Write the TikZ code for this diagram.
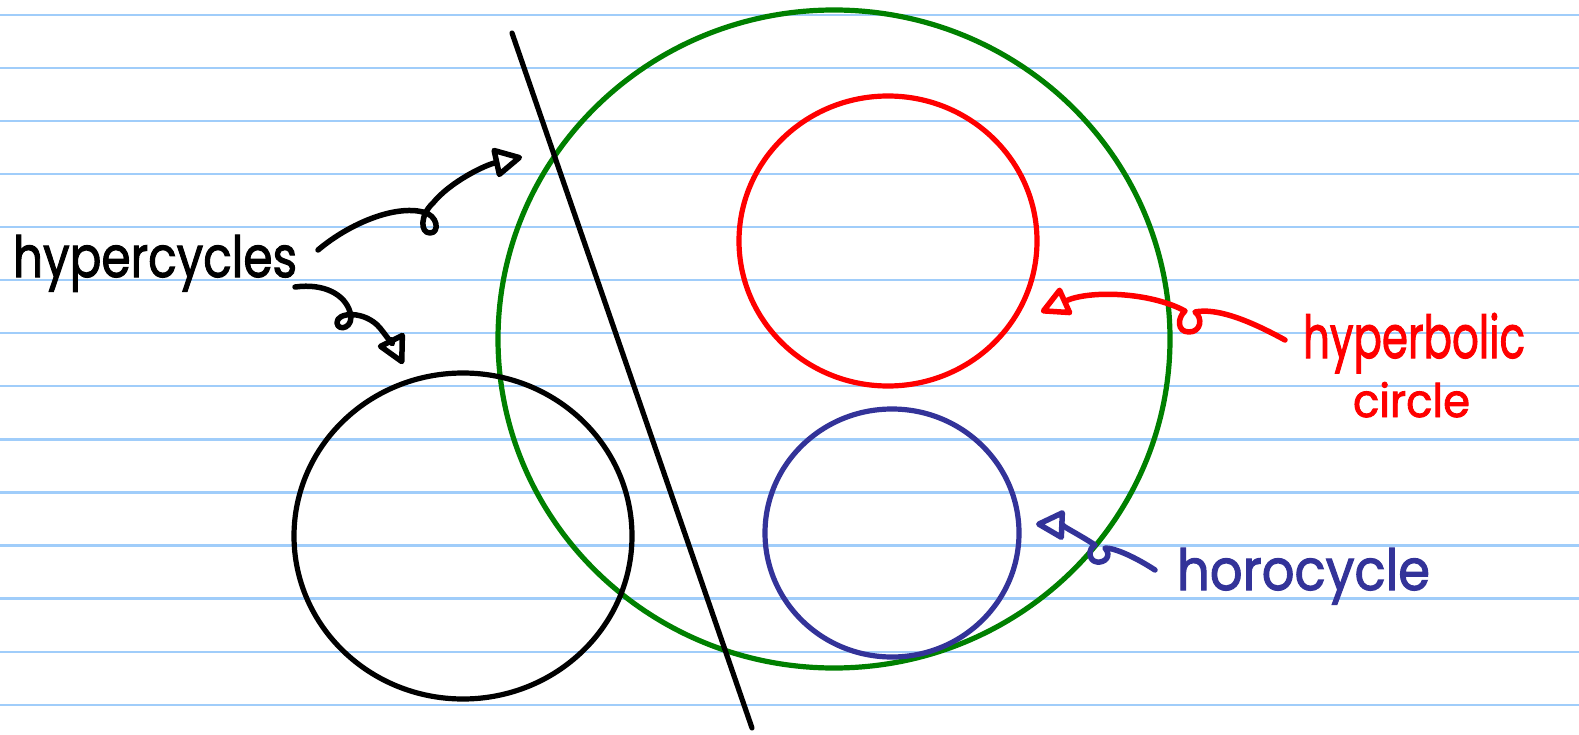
\documentclass[tikz,border=0pt]{standalone}
\usepackage{fontspec}
\usetikzlibrary{arrows.meta}
\newfontfamily\hand[FakeBold=2]{Poppins}
\definecolor{rule}{RGB}{160,205,250}
\definecolor{pgreen}{RGB}{0,128,0}
\definecolor{pred}{RGB}{255,0,0}
\definecolor{pblue}{RGB}{51,51,153}
\tikzset{
  ruleline/.style={draw=rule,line width=2.2pt},
  curve/.style={line width=5.2pt},
  pointer/.style={line width=5.5pt,line cap=round,line join=round,
    -{Triangle[open,length=32pt,width=32pt,line width=5.5pt,round]}},
  hw/.style={inner sep=0pt,outer sep=0pt,font=\hand},
}
\begin{document}
\begin{tikzpicture}[x=1pt,y=-1pt]
\useasboundingbox (0,0) rectangle (1579,735);
\fill[white] (0,0) rectangle (1579,735);
% ruled paper
\foreach \k in {0,...,13}{
  \draw[ruleline] (0,{15+53.05*\k}) -- (1579,{15+53.05*\k});
}
% circles
\draw[curve,pgreen] (834,339) ellipse [x radius=336pt,y radius=329pt];
\draw[curve,pred]   (888,241) ellipse [x radius=149pt,y radius=145pt];
\draw[curve,pblue]  (892,533) ellipse [x radius=127pt,y radius=124pt];
\draw[curve,black]  (463,536) ellipse [x radius=169pt,y radius=163pt];
% hyperbolic line
\coordinate (lt) at (512,33);
\coordinate (lb) at (752,728);
\draw[curve,black,line cap=round] (lt) -- (lb);
% labels
\node[hw,anchor=base west] (hyp) at (13,277) {\resizebox{284pt}{42pt}{hypercycles}};
\node[hw,anchor=base west,text=pred] (hypb) at (1303,358) {\resizebox{222pt}{45pt}{hyperbolic}};
\node[hw,anchor=base west,text=pred] (circ) at (1353,417) {\resizebox{117pt}{35pt}{circle}};
\node[hw,anchor=base west,text=pblue] (horo) at (1177,590) {\resizebox{253pt}{42pt}{horocycle}};
% arrow end points
\coordinate (a1s) at (318,250);
\coordinate (a1t) at (522,157);
\coordinate (a2s) at (295,287);
\coordinate (a2t) at (403,364);
\coordinate (a3s) at (1285,340);
\coordinate (a3t) at (1041,312);
\coordinate (a4s) at (1155,570);
\coordinate (a4t) at (1036,524);
% arrows
\draw[pointer,black] (a1s) .. controls (350,223) and (395,205) .. (423,212)
  .. controls (438,215) and (440,233) .. (430,233)
  .. controls (420,233) and (420,215) .. (433,203)
  .. controls (450,182) and (485,165) .. (a1t);
\draw[pointer,black] (a2s) .. controls (325,283) and (345,295) .. (350,312)
  .. controls (355,328) and (338,332) .. (337,323)
  .. controls (336,312) and (365,310) .. (380,328)
  .. controls (388,338) and (396,350) .. (a2t);
\draw[pointer,pred] (a3s) .. controls (1245,318) and (1215,308) .. (1195,312)
  .. controls (1203,318) and (1201,332) .. (1189,332)
  .. controls (1177,332) and (1177,318) .. (1185,311)
  .. controls (1150,292) and (1090,290) .. (a3t);
\draw[pointer,pblue] (a4s) .. controls (1135,557) and (1115,548) .. (1105,548)
  .. controls (1112,556) and (1105,563) .. (1097,562)
  .. controls (1088,561) and (1088,548) .. (1095,545)
  .. controls (1080,535) and (1060,525) .. (a4t);
\end{tikzpicture}
\end{document}
